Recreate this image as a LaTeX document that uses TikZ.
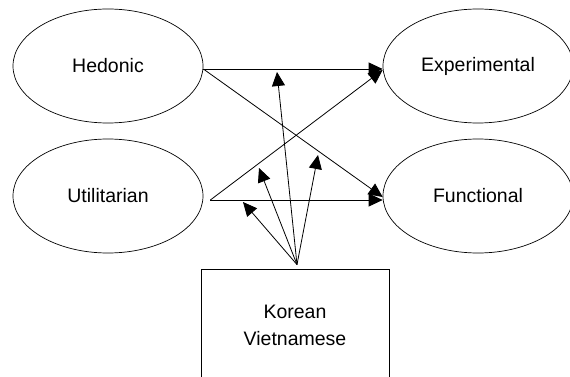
\documentclass[tikz,border=0pt]{standalone}
\usepackage{fontspec}
\setmainfont{Liberation Sans}
\usetikzlibrary{arrows.meta,shapes.geometric}
\begin{document}
\begin{tikzpicture}[x=1pt,y=-1pt,
  every node/.style={font=\fontsize{19.5}{27}\selectfont},
  oval/.style={ellipse,draw,line width=0.7pt,minimum width=190pt,minimum height=114pt,inner sep=0pt},
  panel/.style={rectangle,draw,line width=0.8pt,minimum width=188pt,minimum height=112pt,align=center,inner sep=0pt},
  link/.style={line width=0.8pt,-{Triangle[length=14pt,width=13pt]}}]
\clip (0,0) rectangle (570,377);
\useasboundingbox (0,0) rectangle (570,377);
\node[oval] (hed) at (108,66) {Hedonic};
\node[oval] (uti) at (108,196) {Utilitarian};
\node[oval] (exp) at (478,66) {Experimental};
\node[oval] (fun) at (478,196) {Functional};
\node[panel] (box) at (295,325) {Korean\\Vietnamese};
\coordinate (src) at ([shift={(2pt,4pt)}]box.north);
\coordinate (t1) at (243,202);
\coordinate (t2) at (259,168);
\coordinate (t3) at (277,72);
\coordinate (t4) at (318,155);
\draw[link] ([yshift=-3pt]hed.east) -- ([yshift=-3pt]exp.west);
\draw[link] ([yshift=-3pt]hed.east) -- ([yshift=-1pt]fun.west);
\draw[link] ([shift={(7pt,-4pt)}]uti.east) -- ([yshift=-4pt]exp.west);
\draw[link] ([shift={(7pt,-4pt)}]uti.east) -- ([yshift=-4pt]fun.west);
\draw[link] (src) -- (t1);
\draw[link] (src) -- (t2);
\draw[link] (src) -- (t3);
\draw[link] (src) -- (t4);
\end{tikzpicture}
\end{document}
